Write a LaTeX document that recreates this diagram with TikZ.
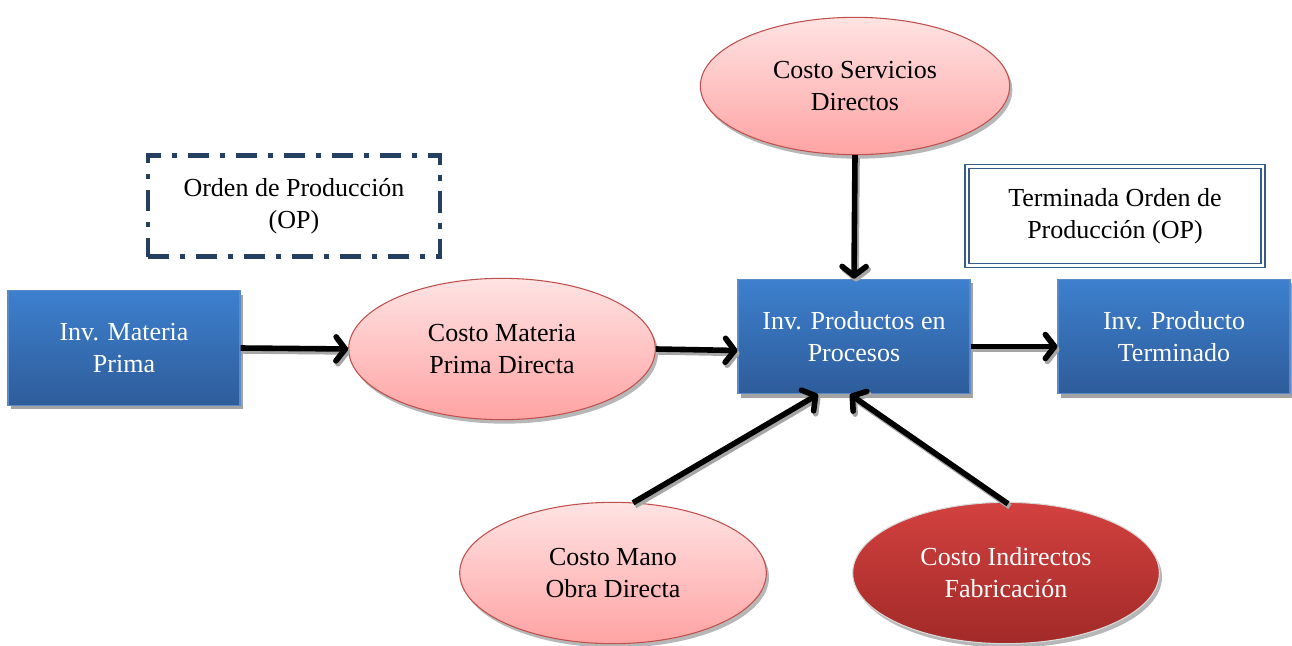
\documentclass[tikz,border=0pt]{standalone}
\usepackage{fontspec}
\setmainfont{Liberation Serif}
\usetikzlibrary{shapes.geometric,shadows,arrows.meta,calc}
\definecolor{boxtop}{HTML}{3D80CE}
\definecolor{boxbot}{HTML}{2E5C9A}
\definecolor{boxline}{HTML}{5B8BC7}
\definecolor{pinktop}{HTML}{FFE3E3}
\definecolor{pinkbot}{HTML}{FFA3A3}
\definecolor{pinkline}{HTML}{C0504D}
\definecolor{redtop}{HTML}{D2413F}
\definecolor{redbot}{HTML}{A12A28}
\definecolor{navy}{HTML}{243F60}
\definecolor{dblline}{HTML}{385D8A}
% flecha con sombra gris
\newcommand{\flecha}[2]{%
  \begin{scope}[transform canvas={xshift=1.5pt,yshift=-2.2pt}]
    \draw[flecha,draw=black!35] #1 -- #2;
  \end{scope}
  \draw[flecha] #1 -- #2;}
\begin{document}
\begin{tikzpicture}[x=0.75pt,y=-0.75pt]
\tikzset{every node/.style={font=\fontsize{19.5}{24}\selectfont,align=center}}
\tikzset{inv/.style={rectangle,draw=boxline,line width=0.8pt,top color=boxtop,bottom color=boxbot,
    text=white,minimum width=174pt,minimum height=86pt,
    drop shadow={shadow xshift=2pt,shadow yshift=-3pt,fill=black!45,opacity=0.8}}}
\tikzset{costo/.style={ellipse,draw=pinkline,line width=0.8pt,top color=pinktop,bottom color=pinkbot,
    minimum width=230pt,minimum height=106pt,inner sep=0pt,
    drop shadow={shadow xshift=2pt,shadow yshift=-3pt,fill=black!40,opacity=0.7}}}
\tikzset{flecha/.style={line width=4.2pt,-{Straight Barb[round,length=7pt,width=18pt]}}}
\useasboundingbox (0,0) rectangle (1292,646);
% cajas de inventario
\node[inv] (mp) at (124,348) {Inv. Materia\\Prima};
\node[inv] (proc) at (854,336.5) {Inv. Productos en\\Procesos};
\node[inv] (term) at (1174,336.5) {Inv. Producto\\Terminado};
% costos
\node[costo] (cmp) at (502,349) {Costo Materia\\Prima Directa};
\node[costo,minimum width=232pt,minimum height=103pt] (serv) at (855,86) {Costo Servicios\\Directos};
\node[costo] (mano) at (613,573) {Costo Mano\\Obra Directa};
\node[costo,draw=black!15,top color=redtop,bottom color=redbot,text=white] (ind) at (1006,573)
    {Costo Indirectos\\Fabricaci\'on};
% etiquetas de la orden
\node[draw=navy,line width=3.6pt,dash pattern=on 16pt off 8pt on 4pt off 8pt,
    minimum width=219pt,minimum height=76pt] (op) at (294,206) {Orden de Producci\'on\\(OP)};
\node[draw=dblline,double,double distance=2.2pt,line width=1pt,
    minimum width=222pt,minimum height=74pt] (opt) at (1115,216) {Terminada Orden de\\Producci\'on (OP)};
% flechas
\flecha{(mp.east)}{(cmp.west)}
\flecha{(cmp.east)}{($(proc.west)+(0,14)$)}
\flecha{(serv.south)}{(proc.north)}
\flecha{($(proc.east)+(0,10)$)}{($(term.west)+(0,10)$)}
\flecha{($(mano.north)+(20,1)$)}{($(proc.south)+(-36,0)$)}
\flecha{($(ind.north)+(2,2)$)}{($(proc.south)+(-4,0)$)}
\end{tikzpicture}
\end{document}
